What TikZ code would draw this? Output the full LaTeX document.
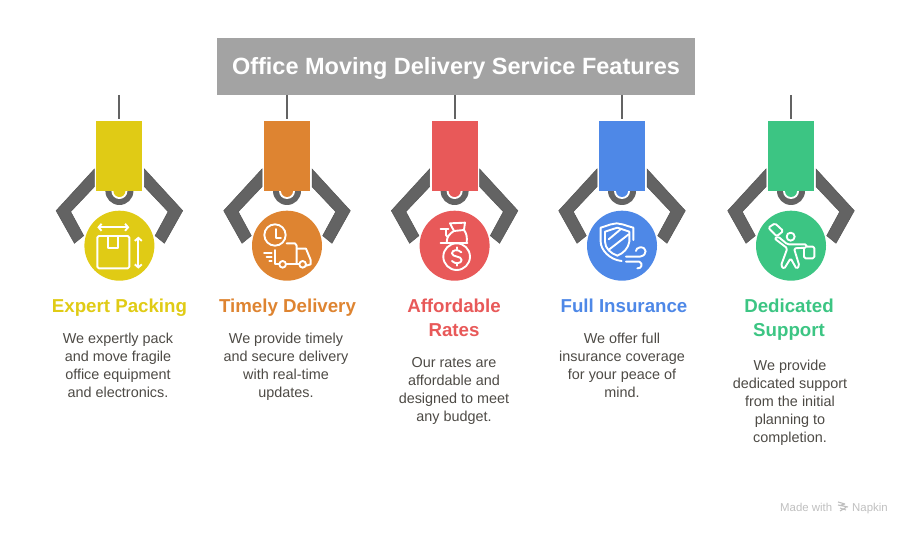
\documentclass[tikz,border=0pt]{standalone}
\usepackage{fontspec}
\setmainfont{Liberation Sans}
\usetikzlibrary{arrows.meta}
\definecolor{cyellow}{HTML}{E0CB15}
\definecolor{corange}{HTML}{DE8431}
\definecolor{cred}{HTML}{E85959}
\definecolor{cblue}{HTML}{4E88E7}
\definecolor{cgreen}{HTML}{3CC583}
\definecolor{armgray}{HTML}{636363}
\definecolor{titlegray}{HTML}{A3A3A3}
\definecolor{bodytext}{HTML}{4D4A45}
\tikzset{
  x=1pt,y=-1pt,
  titlebox/.style={fill=titlegray,minimum width=478pt,minimum height=57pt,inner sep=0pt},
  titletext/.style={text=white,inner sep=0pt,font=\fontsize{23.5}{28}\selectfont\bfseries},
  armbody/.style={fill=armgray,draw=armgray!85!black,line width=.5pt,line join=miter},
  rope/.style={draw=armgray,line width=2pt,shorten >=2pt},
  bodyrect/.style={minimum width=46pt,minimum height=70pt,inner sep=0pt},
  iconcirc/.style={circle,minimum size=70pt,inner sep=0pt},
  iconline/.style={draw=white,line width=1.9pt,line cap=round,line join=round},
  heading/.style={align=center,inner sep=0pt,anchor=north,font=\fontsize{18.7}{24.3}\selectfont\bfseries},
  desc/.style={align=center,inner sep=0pt,anchor=north,text=bodytext,font=\fontsize{14.4}{18}\selectfont},
  arrowline/.style={iconline,<->,>={Straight Barb[length=3pt,width=7pt]}},
  wmark/.style={inner sep=0pt,anchor=base west,text=black!25,font=\fontsize{11.4}{13}\selectfont},
}
\newcommand{\clawunit}[3]{%
  \coordinate (ropetop#1) at (#2,95);
  \node[bodyrect,fill=#3] (rect#1) at (#2,156) {};
  \begin{scope}[shift={(#2,0)}]
    \fill[armgray] (0,191) circle (14);
    \fill[white] (0,191) circle (8);
    \fill[#3] (0,191) circle (6);
    \draw[armbody] (-25,169) -- (-63.3,210.7) -- (-45,243.3) -- (-35.7,235.7) -- (-48.7,211.7) -- (-25,186.7) -- cycle;
    \draw[armbody] (25,169) -- (63.3,210.7) -- (45,243.3) -- (35.7,235.7) -- (48.7,211.7) -- (25,186.7) -- cycle;
  \end{scope}
  \node[bodyrect,fill=#3] (rectb#1) at (#2,156) {};
  \draw[rope] (ropetop#1) -- (rect#1.north);
  \node[iconcirc,fill=#3] (circ#1) at (#2,245.7) {};
}
\begin{document}
\begin{tikzpicture}
\useasboundingbox (0,0) rectangle (912,534);
\node[titlebox] (title) at (456,66.5) {};
\node[titletext] (titlelabel) at (456,68) {Office Moving Delivery Service Features};

\clawunit{a}{119.4}{cyellow}
\clawunit{b}{287}{corange}
\clawunit{c}{454.6}{cred}
\clawunit{d}{622}{cblue}
\clawunit{e}{791}{cgreen}

% package icon
\begin{scope}[shift={(40,90)},x=.3333pt,y=-.3333pt]
  \draw[iconline,rounded corners=1.5pt] (172,438) rectangle (268,535);
  \draw[iconline] (205,438) -- (205,475) -- (235,475) -- (235,438);
  \draw[arrowline] (172,412) -- (268,412);
  \draw[arrowline] (295,440) -- (295,536);
\end{scope}

% truck icon
\begin{scope}[shift={(240,205)},x=.3333pt,y=-.3333pt]
  \draw[iconline] (105,90) circle (32);
  \draw[iconline] (107,72) -- (107,98) -- (123,98);
  \draw[iconline] (140,115) -- (165,115) -- (170,122) -- (170,175);
  \draw[iconline] (105,135) -- (105,178) -- (117,178);
  \draw[iconline] (139,178) -- (177,178);
  \draw[iconline] (172,131) -- (198,131) -- (212,165) -- (212,178) -- (199,182);
  \draw[iconline] (128,178) circle (10);
  \draw[iconline] (188,178) circle (10);
  \draw[iconline] (72,143) -- (95,143);
  \draw[iconline] (80,155) -- (95,155);
  \draw[iconline] (88,167) -- (95,167);
\end{scope}

% money bag icon
\begin{scope}[shift={(240,205)},x=.3333pt,y=-.3333pt]
  \draw[iconline] (630,55) -- (675,53) -- (672,75) -- (642,78) -- cycle;
  \draw[iconline] (642,78) .. controls (630,85) and (620,95) .. (620,113);
  \draw[iconline] (672,75) .. controls (680,85) and (682,98) .. (680,113);
  \draw[iconline] (602,72) -- (625,72) (602,113) -- (682,113);
  \draw[iconline] (618,72) -- (618,90) -- (622,95);
  \draw[iconline] (650,155) circle (40);
  \draw[iconline] (664,142) .. controls (655,132) and (636,134) .. (636,145) .. controls (636,157) and (665,152) .. (665,165) .. controls (665,176) and (644,178) .. (636,168);
  \draw[iconline] (650,127) -- (650,133) (650,176) -- (650,182);
\end{scope}

% shield icon
\begin{scope}[shift={(580,205)},x=.3333pt,y=-.3333pt]
  \draw[iconline] (160,105) -- (160,68) .. controls (130,60) and (125,55) .. (110,55) .. controls (95,55) and (90,60) .. (62,68) -- (62,110) .. controls (62,135) and (90,165) .. (125,168);
  \draw[iconline] (75,80) -- (112,68) -- (148,80) -- (148,110) .. controls (145,130) and (130,145) .. (112,152) .. controls (92,145) and (75,130) .. (75,110) -- cycle;
  \draw[iconline] (86,103) -- (123,72);
  \draw[iconline] (88,133) -- (146,88);
  \draw[iconline] (138,155) -- (180,155) .. controls (205,150) and (200,125) .. (180,127) .. controls (172,128) and (168,133) .. (168,138);
  \draw[iconline] (138,170) -- (178,170) .. controls (190,175) and (185,192) .. (172,190);
\end{scope}

% person icon
\begin{scope}[shift={(580,205)},x=.3333pt,y=-.3333pt]
  \draw[iconline] (632,95) circle (12);
  \draw[iconline,rounded corners=1.5pt] (565,68) -- (585,55) -- (610,78) -- (590,94) -- cycle;
  \draw[iconline,rounded corners=1.5pt] (583,100) -- (595,95) -- (622,118) -- (680,118) -- (680,128) -- (642,130) -- (658,182) -- (650,192) -- (632,160) -- (612,192) -- (603,182) -- (622,130) -- cycle;
  \draw[iconline,rounded corners=1.5pt] (672,128) -- (672,160) -- (703,160) -- (703,125) -- (682,125);
\end{scope}

% texts
\node[heading,text=cyellow] (ha) at (119.5,298.5) {Expert Packing};
\node[heading,text=corange] (hb) at (287.5,298.5) {Timely Delivery};
\node[heading,text=cred]    (hc) at (454,298.5) {Affordable\\Rates};
\node[heading,text=cblue]   (hd) at (624,298.5) {Full Insurance};
\node[heading,text=cgreen]  (he) at (789,298.5) {Dedicated\\Support};

\node[desc] (da) at (118,333) {We expertly pack\\and move fragile\\office equipment\\and electronics.};
\node[desc] (db) at (286,333) {We provide timely\\and secure delivery\\with real-time\\updates.};
\node[desc] (dc) at (454,357) {Our rates are\\affordable and\\designed to meet\\any budget.};
\node[desc] (dd) at (622,333) {We offer full\\insurance coverage\\for your peace of\\mind.};
\node[desc] (de) at (790,360) {We provide\\dedicated support\\from the initial\\planning to\\completion.};

% watermark
\node[wmark] (mw) at (780,511) {Made with};
\node[wmark] (np) at (852,511) {Napkin};
\draw[black!25,line width=1.1pt] (838,502) -- (845,504) (838,505) -- (848,507) (840,508) -- (846,510) (846,507.5) -- (840,511) (845,504) -- (841,505);
\end{tikzpicture}
\end{document}
